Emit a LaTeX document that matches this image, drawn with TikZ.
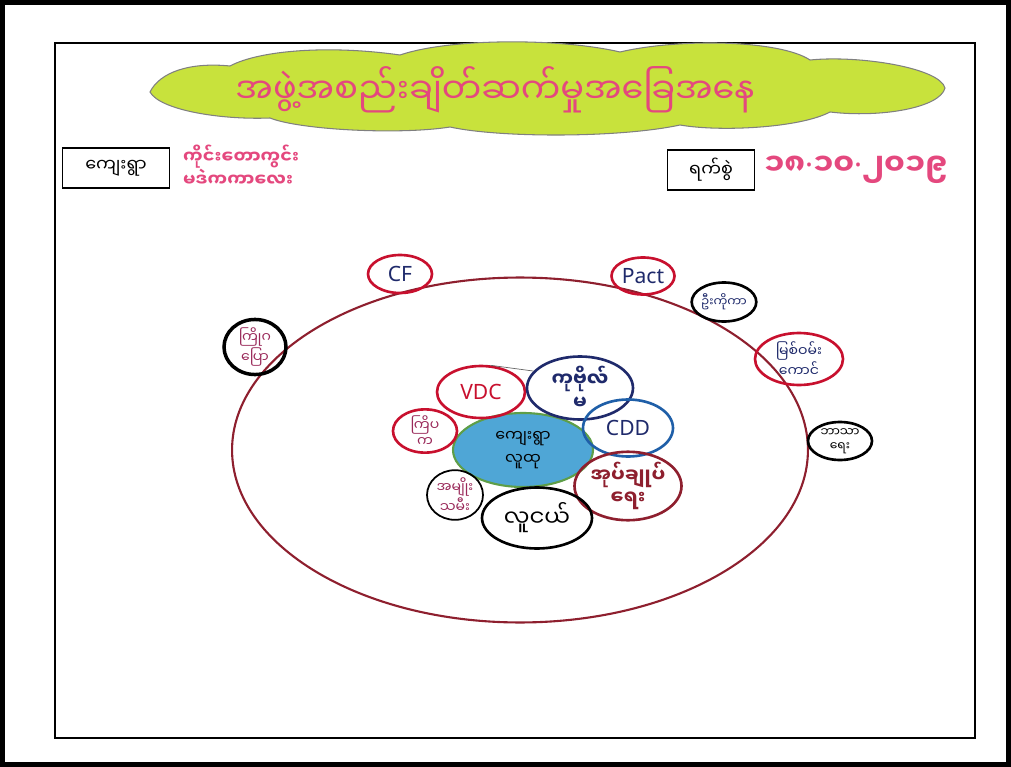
\documentclass[tikz,border=0pt]{standalone}
\usepackage{fontspec}
\setmainfont{Noto Sans}
\newfontfamily\mmfont[Script=Myanmar]{Noto Sans Myanmar UI}
\usetikzlibrary{shapes.geometric}
\definecolor{cloudgreen}{HTML}{C8E23C}
\definecolor{titlepink}{HTML}{E4487E}
\definecolor{ringred}{HTML}{8E1F2E}
\definecolor{penred}{HTML}{C8102E}
\definecolor{pennavy}{HTML}{1F2A6B}
\definecolor{penblue}{HTML}{1F5FA8}
\definecolor{penpurple}{HTML}{9A2A5A}
\definecolor{hubblue}{HTML}{4FA6D6}
\definecolor{hubgreen}{HTML}{5E9E48}
\newcommand{\middot}{{\rmfamily\textperiodcentered}}
\tikzset{
  mapfig/.style={x=0.02cm,y=-0.02cm,
    every node/.style={font=\mmfont,align=center}},
  orgnode/.style 2 args={ellipse,draw,line width=1.5pt,inner sep=0pt,
    minimum width=#1*0.02cm,minimum height=#2*0.02cm,
    font=\mmfont\fontsize{8}{9}\selectfont},
  hubnode/.style={ellipse,draw=hubgreen,fill=hubblue,line width=1.2pt,
    minimum width=2.8cm,minimum height=1.48cm,
    font=\mmfont\fontsize{9}{13}\selectfont},
  labelbox/.style={draw,line width=0.7pt,minimum height=0.8cm,inner xsep=7pt,
    font=\mmfont\fontsize{10}{12}\selectfont},
  penote/.style={text=titlepink,font=\mmfont\bfseries\fontsize{10}{13}\selectfont,align=left},
  cloudfill/.style={draw=black!50,fill=cloudgreen,line width=0.6pt},
}
\begin{document}
\begin{tikzpicture}[mapfig]
    \useasboundingbox (0,0) rectangle (1011,767);
    \draw[line width=0.1cm] (2.5,2.5) rectangle (1008.5,764.5);
    \draw[line width=0.04cm] (55,43) rectangle (975,738);

    % title cloud
    \path[cloudfill] (150,92) .. controls (160,72) and (190,62) .. (230,66)
      .. controls (260,50) and (330,45) .. (400,55)
      .. controls (450,38) and (560,38) .. (620,52)
      .. controls (680,38) and (780,40) .. (810,60)
      .. controls (860,55) and (940,68) .. (945,88)
      .. controls (940,108) and (880,118) .. (830,112)
      .. controls (800,128) and (720,132) .. (680,125)
      .. controls (620,138) and (500,138) .. (450,127)
      .. controls (400,135) and (300,130) .. (270,118)
      .. controls (220,120) and (160,110) .. (150,92) -- cycle;
    \node[text=titlepink,font=\mmfont\fontsize{20}{22}\selectfont] (title) at (495,90)
      {အဖွဲ့အစည်းချိတ်ဆက်မှုအခြေအနေ};

    \node[labelbox,minimum width=2.14cm] (villagebox) at (116,168) {ကျေးရွာ};
    \node[penote,anchor=west] (village) at (177,166) {ကိုင်းတောကွင်း\\မဒဲကကာလေး};
    \node[labelbox,minimum width=1.74cm] (datebox) at (711,170) {ရက်စွဲ};
    \node[penote,anchor=west,font=\mmfont\bfseries\fontsize{17}{19}\selectfont]
      (date) at (758,170) {၁၈\middot၁၀\middot၂၀၁၉};

    % village ring
    \draw[ringred,line width=1.2pt] (520,450) ellipse [x radius=5.76cm,y radius=3.45cm];

    % outside the village
    \node[orgnode={64}{38},draw=penred,text=pennavy,font=\rmfamily\fontsize{12}{14}\selectfont]
      (cf) at (400,274) {CF};
    \node[orgnode={63}{37},draw=penred,text=pennavy,font=\rmfamily\fontsize{12}{14}\selectfont]
      (pact) at (643,276) {Pact};
    \node[orgnode={63}{39},draw=black,text=pennavy,font=\mmfont\fontsize{7}{8}\selectfont]
      (ukoka) at (724,302) {ဦးကိုကာ};
    \node[orgnode={88}{52},draw=penred,text=pennavy] (river) at (799,359) {မြစ်ဝမ်း\\ကောင်};
    \node[orgnode={64}{38},draw=black,text=black,font=\mmfont\fontsize{7}{8}\selectfont]
      (religion) at (840,441) {ဘာသာ\\ရေး};
    \node[orgnode={62}{46},draw=black,text=penpurple,line width=2pt] (redcross) at (255,347) {ကြိုဂ\\ပြော};

    % inside the village
    \node[hubnode] (hub) at (523,450) {ကျေးရွာ\\လူထု};
    \node[orgnode={88}{52},draw=penred,text=penred,font=\rmfamily\bfseries\large] (vdc) at (481,392) {VDC};
    \node[orgnode={106}{63},draw=pennavy,text=pennavy,font=\mmfont\bfseries\fontsize{11}{13}\selectfont]
      (merit) at (580,388) {ကုဗိုလ်\\မ};
    \node[orgnode={90}{57},draw=penblue,text=pennavy,font=\rmfamily\bfseries\large] (cdd) at (628,428) {CDD};
    \node[orgnode={64}{38},draw=penred,text=penpurple] (clinic) at (425,431) {ကြိပ\\က};
    \node[orgnode={107}{62},draw=ringred,text=ringred,font=\mmfont\bfseries\fontsize{11}{13}\selectfont]
      (admin) at (628,486) {အုပ်ချုပ်\\ရေး};
    \node[orgnode={56}{36},draw=black,text=penpurple,line width=1pt] (women) at (455,495) {အမျိုး\\သမီး};
    \node[orgnode={110}{61},draw=black,text=black,font=\mmfont\fontsize{13}{15}\selectfont]
      (youth) at (537,518) {လူငယ်};
    \draw[black!60,thin] (vdc.70) -- (merit.160);
\end{tikzpicture}
\end{document}
